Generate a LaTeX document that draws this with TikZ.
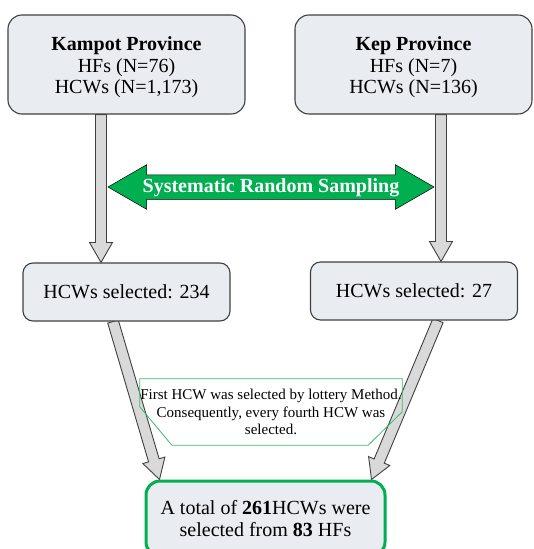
\documentclass[tikz,border=0pt]{standalone}
\usepackage{fontspec}
\setmainfont{Liberation Serif}
\usepackage{tikz}
\usetikzlibrary{arrows.meta,positioning,calc,shapes.arrows,backgrounds}
\definecolor{boxfill}{RGB}{233,236,241}
\definecolor{boxline}{RGB}{64,64,64}
\definecolor{arrfill}{RGB}{217,217,217}
\definecolor{arrline}{RGB}{64,64,64}
\definecolor{sgreen}{RGB}{0,176,80}
\definecolor{ngreen}{RGB}{60,185,110}
\tikzset{
  provbox/.style={draw=boxline,fill=boxfill,rounded corners=14pt,line width=1.1pt,align=center,font=\fontsize{20}{21.5}\selectfont,minimum width=237pt,minimum height=99pt},
  selbox/.style={provbox,minimum width=207pt,minimum height=58pt,rounded corners=10pt},
  totbox/.style={selbox,draw=sgreen,line width=3pt,minimum width=239pt,minimum height=75pt,rounded corners=14pt,font=\fontsize{20}{22.5}\selectfont},
  blkarr/.style={draw=arrline,fill=arrfill,line width=0.9pt,line join=miter},
  sampl/.style={double arrow,double arrow head extend=10pt,double arrow tip angle=60,fill=sgreen,draw=black,line width=0.5pt,text=white,font=\fontsize{20}{20}\selectfont\bfseries,minimum height=326pt,inner sep=4pt,text height=13pt,text depth=3pt},
  notetxt/.style={align=center,font=\fontsize{15}{17.5}\selectfont,minimum width=262pt,minimum height=66pt,inner sep=0pt},
  noteline/.style={draw=ngreen,line width=0.8pt}
}
% block arrow from #1 to #2
\newcommand{\blkarrow}[2]{%
  \path (#2) coordinate (ahtip) ($(#2)!20pt!(#1)$) coordinate (ahbase);
  \draw[blkarr] ($(#1)!5.5pt!90:(ahbase)$) -- ($(ahbase)!5.5pt!-90:(#1)$)
    -- ($(ahbase)!11.5pt!-90:(#1)$) -- (ahtip)
    -- ($(ahbase)!11.5pt!90:(#1)$) -- ($(ahbase)!5.5pt!90:(#1)$)
    -- ($(#1)!5.5pt!-90:(ahbase)$) -- cycle;
}
\begin{document}
\begin{tikzpicture}[x=1pt,y=-1pt]
  \useasboundingbox (0,0) rectangle (533,549);

  % Provinces
  \node[provbox] (kampot) at (126.5,64.5) {\rule{0pt}{20pt}\textbf{Kampot Province}\\HFs (N=76)\\HCWs (N=1,173)};
  \node[provbox] (kep) at (413.5,64.5) {\rule{0pt}{20pt}\textbf{Kep Province}\\HFs (N=7)\\HCWs (N=136)};

  % Selected HCWs
  \node[selbox] (sel1) at (126.5,292) {HCWs selected: 234};
  \node[selbox] (sel2) at (414,291) {HCWs selected: 27};

  % Total
  \node[totbox] (total) at (265.5,518.5) {A total of \textbf{261}HCWs were\\selected from \textbf{83} HFs};

  % Sampling arrow
  \node[sampl] (samp) at (271,187) {Systematic Random Sampling};

  % Arrow ends
  \coordinate (a1s) at ($(kampot.south)+(-25.5,0)$);
  \coordinate (a1e) at (a1s |- sel1.north);
  \coordinate (a2s) at ($(kep.south)+(27.5,0)$);
  \coordinate (a2e) at (a2s |- sel2.north);
  \coordinate (a3s) at ($(sel1.south)+(-13.5,0)$);
  \coordinate (a3e) at ($(total.north west)+(15,0)$);
  \coordinate (a4s) at ($(sel2.south)+(24,0)$);
  \coordinate (a4e) at ($(total.north east)+(-15,0)$);

  \begin{scope}[on background layer]
    \fill[white] (0,0) rectangle (533,549);
    \blkarrow{a1s}{a1e}
    \blkarrow{a2s}{a2e}
    \blkarrow{a3s}{a3e}
    \blkarrow{a4s}{a4e}
  \end{scope}

  % Lottery note
  \node[notetxt] (note) at (271,412) {First HCW was selected by lottery Method.\\Consequently, every fourth HCW was\\selected.};
  \draw[noteline] (note.north west) -- (note.north east) -- ($(note.north east)+(0,33)$)
    -- ($(note.south east)+(-34,0)$) -- ($(note.south west)+(32,0)$)
    -- ($(note.north west)+(0,28)$) -- cycle;

\end{tikzpicture}
\end{document}
